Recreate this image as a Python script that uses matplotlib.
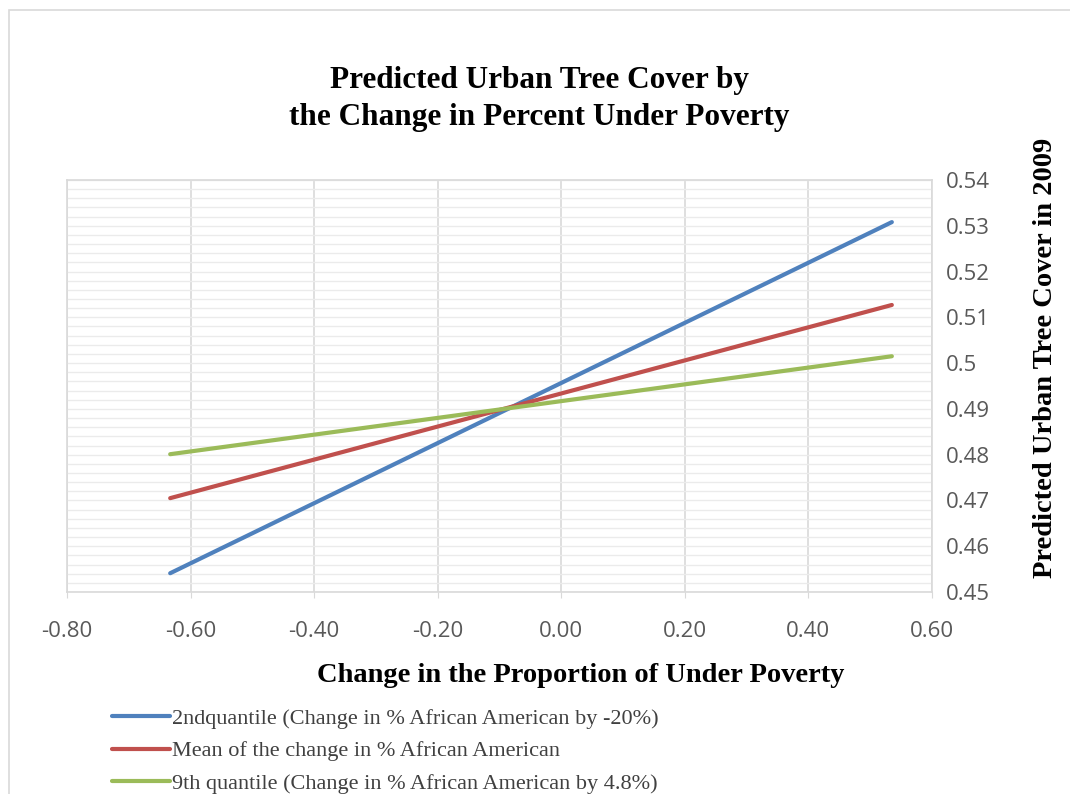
import numpy as np
import matplotlib.pyplot as plt
from matplotlib.ticker import MultipleLocator, FormatStrFormatter
from matplotlib.patches import Rectangle

# change in proportion under poverty (x) and predicted tree cover (y)
x_vals = [-0.633, 0.535]
y_q2 = [0.4541, 0.5308]
y_mean = [0.4705, 0.5127]
y_q9 = [0.4801, 0.5015]

labels = ["2ndquantile (Change in % African American by -20%)",
          "Mean of the change in % African American",
          "9th quantile (Change in % African American by 4.8%)"]
colors = ["#4F81BD", "#C0504D", "#9BBB59"]

serif = "Liberation Serif"
tick_font = "Open Sans"
tick_color = "#595959"

fig = plt.figure(figsize=(10.7, 7.94), dpi=100)
fig.patches.append(Rectangle((9 / 1070, -0.1), 1.2, 784 / 794 + 0.1,
                             transform=fig.transFigure, fill=False,
                             edgecolor="#D9D9D9", linewidth=1.2))

ax = fig.add_axes([67 / 1070, 1 - 592 / 794, (932 - 67) / 1070, (592 - 180) / 794])

for y, lab, c in zip([y_q2, y_mean, y_q9], labels, colors):
    ax.plot(x_vals, y, color=c, linewidth=3, label=lab, solid_capstyle="round")

ax.set_xlim(-0.8, 0.6)
ax.set_ylim(0.45, 0.54)
ax.xaxis.set_major_locator(MultipleLocator(0.2))
ax.xaxis.set_major_formatter(FormatStrFormatter("%.2f"))
ax.yaxis.set_major_locator(MultipleLocator(0.01))
ax.yaxis.set_minor_locator(MultipleLocator(0.002))
ax.yaxis.set_major_formatter(plt.FuncFormatter(lambda v, p: ("%.2f" % v).rstrip("0") if abs(v - 0.5) < 1e-9 else "%.2f" % v))

ax.grid(True, axis="x", which="major", color="#D9D9D9", linewidth=1.2)
ax.grid(True, axis="y", which="both", color="#EBEBEB", linewidth=1)
ax.set_axisbelow(True)

ax.yaxis.tick_right()
ax.tick_params(axis="y", which="both", length=0, pad=10,
               labelsize=16, labelcolor=tick_color)
ax.tick_params(axis="x", which="both", length=4, color="#D9D9D9",
               pad=17, labelsize=16, labelcolor=tick_color)
for lab in ax.get_xticklabels() + ax.get_yticklabels():
    lab.set_fontfamily(tick_font)

for s in ax.spines.values():
    s.set_color("#D9D9D9")
    s.set_linewidth(1.2)

fig.text(581 / 1070, 1 - 676 / 794, "Change in the Proportion of Under Poverty",
         ha="center", va="center", fontsize=20.5, fontweight="bold", family=serif)
fig.text(1045 / 1070, 1 - 358 / 794, "Predicted Urban Tree Cover in 2009",
         ha="center", va="center", rotation=90, fontsize=20.5,
         fontweight="bold", family=serif)

fig.text(539 / 1070, 1 - 99 / 794, "Predicted Urban Tree Cover by\nthe Change in Percent Under Poverty",
         ha="center", va="center", fontsize=22.5, fontweight="bold",
         family=serif, linespacing=1.4)

leg = fig.legend(loc="upper left", bbox_to_anchor=(112 / 1070, 1 - 708 / 794),
                 frameon=False, prop={"family": serif, "size": 16},
                 handlelength=2.6, handletextpad=0.1, labelspacing=0.55,
                 borderaxespad=0, borderpad=0)
for t in leg.get_texts():
    t.set_color("#404040")

fig.savefig("out.png", dpi=100)
plt.close(fig)
